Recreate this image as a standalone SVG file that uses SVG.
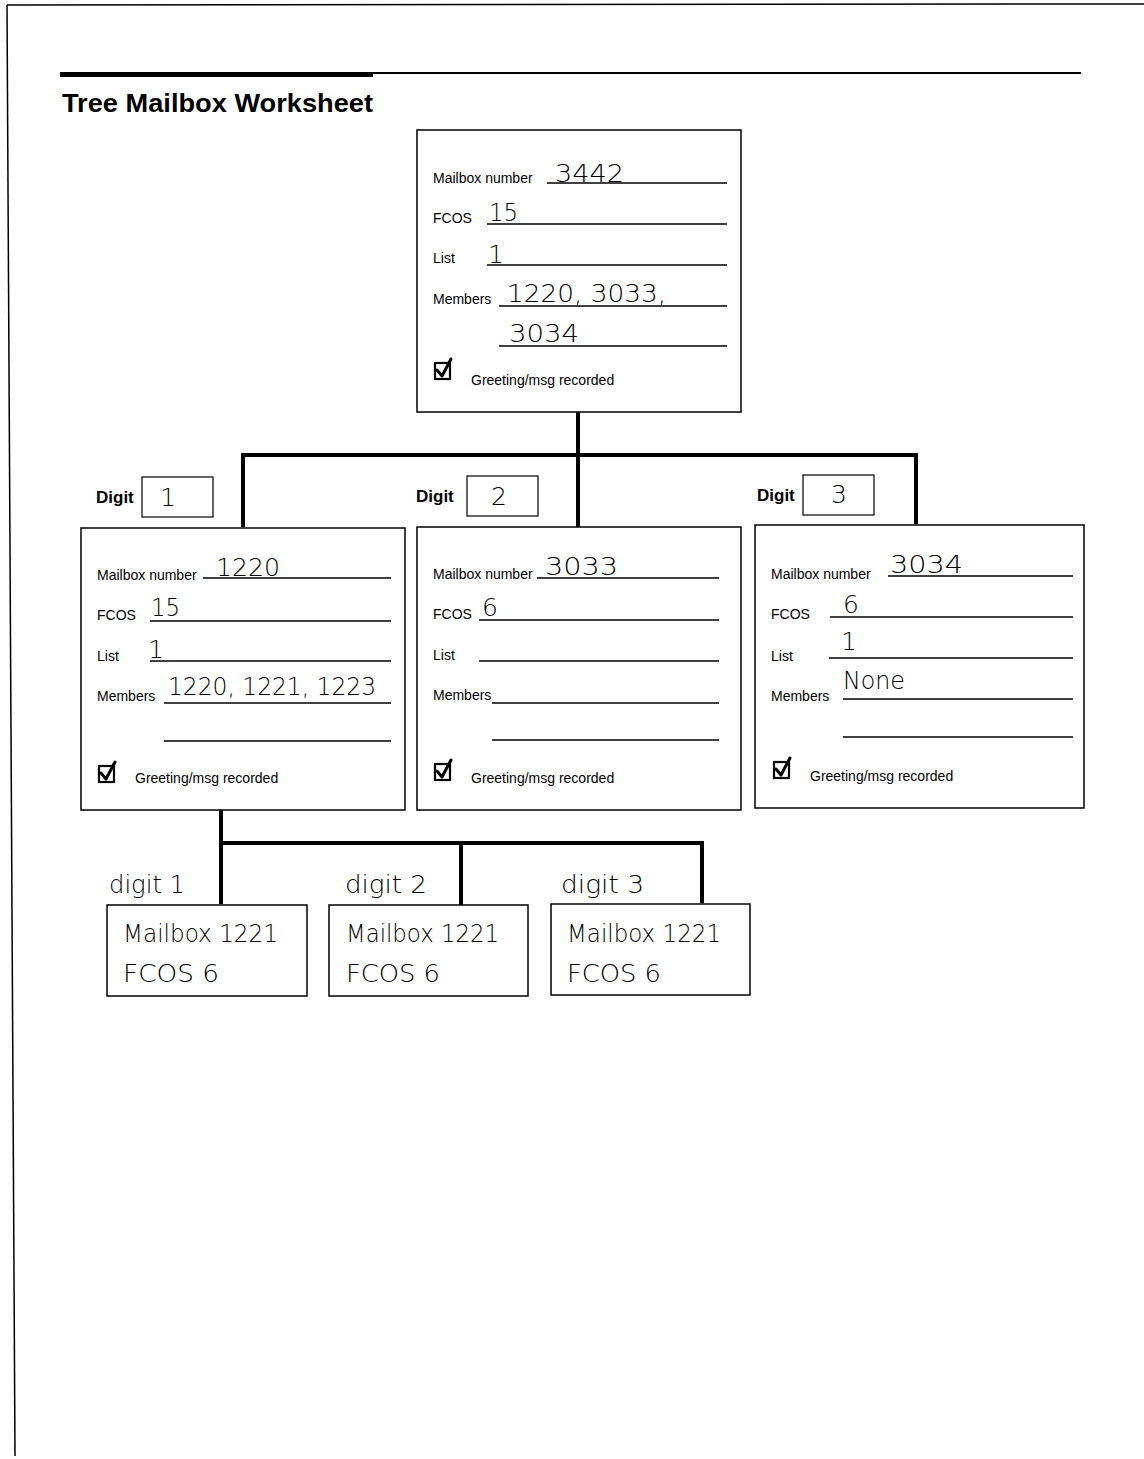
<svg xmlns="http://www.w3.org/2000/svg" width="1144" height="1459" viewBox="0 0 1144 1459">
<style>
.box{fill:#fff;stroke:#000;stroke-width:1.5}
.dbox{fill:#fff;stroke:#000;stroke-width:1.2}
.rule{stroke:#000;stroke-width:1.5}
.conn{stroke:#000;stroke-width:4;fill:none}
.lbl{font-family:"Liberation Sans",Arial,sans-serif;font-size:14px;fill:#000}
.dig{font-family:"Liberation Sans",Arial,sans-serif;font-size:17px;font-weight:bold;fill:#000}
.hw{font-family:"DejaVu Sans",sans-serif;font-weight:200;font-size:25px;fill:#000}
.hwi{font-family:"DejaVu Sans",sans-serif;font-weight:200;font-size:24px;fill:#000}
.cb{fill:none;stroke:#000;stroke-width:2.2}
.ck{fill:none;stroke:#000;stroke-width:3;stroke-linecap:round;stroke-linejoin:round}
</style>
<defs>
<g id="check">
<rect class="cb" x="1" y="4" width="15" height="16"/>
<path class="ck" d="M3 11 L8 17 L17 0"/>
</g>
</defs>
<rect width="1144" height="1459" fill="#fff"/>
<!-- page border -->
<line x1="7" y1="5" x2="1144" y2="4" stroke="#000" stroke-width="1.5"/>
<line x1="7" y1="5" x2="15" y2="1456" stroke="#000" stroke-width="1.5"/>
<!-- header rule -->
<rect x="60" y="72" width="313" height="5" fill="#000"/>
<line x1="373" y1="73" x2="1081" y2="73" stroke="#000" stroke-width="2"/>
<text x="62" y="112" font-family="Liberation Sans,Arial,sans-serif" font-size="25" font-weight="bold" textLength="311" lengthAdjust="spacingAndGlyphs">Tree Mailbox Worksheet</text>

<g id="connectors">
<path class="conn" d="M578 412 V527"/>
<path class="conn" d="M243 527 V455 H916 V524"/>
<path class="conn" d="M221 810 V904"/>
<path class="conn" d="M221 843 H702 V903"/>
<path class="conn" d="M461 843 V905"/>
</g>

<g id="root">
<rect class="box" x="417" y="130" width="324" height="282"/>
<text class="lbl" x="433" y="183">Mailbox number</text>
<line class="rule" x1="547" y1="183" x2="727" y2="183"/>
<text class="hw" x="555" y="182" textLength="69" lengthAdjust="spacingAndGlyphs">3442</text>
<text class="lbl" x="433" y="223">FCOS</text>
<line class="rule" x1="487" y1="224" x2="727" y2="224"/>
<text class="hw" x="489" y="221" textLength="29" lengthAdjust="spacingAndGlyphs">15</text>
<text class="lbl" x="433" y="263">List</text>
<line class="rule" x1="487" y1="265" x2="727" y2="265"/>
<text class="hw" x="488" y="263">1</text>
<text class="lbl" x="433" y="304">Members</text>
<line class="rule" x1="499" y1="306" x2="727" y2="306"/>
<text class="hw" x="507" y="302" textLength="159" lengthAdjust="spacingAndGlyphs">1220, 3033,</text>
<line class="rule" x1="499" y1="346" x2="727" y2="346"/>
<text class="hw" x="509" y="342" textLength="70" lengthAdjust="spacingAndGlyphs">3034</text>
<use href="#check" x="434" y="359"/>
<text class="lbl" x="471" y="385">Greeting/msg recorded</text>
</g>

<g id="mailbox-1220">
<text class="dig" x="96" y="503">Digit</text>
<rect class="dbox" x="142" y="477" width="71" height="40"/>
<text class="hw" x="160" y="506" font-size="24">1</text>
<rect class="box" x="81" y="528" width="324" height="282"/>
<text class="lbl" x="97" y="580">Mailbox number</text>
<line class="rule" x1="203" y1="578" x2="391" y2="578"/>
<text class="hw" x="216" y="576" textLength="64" lengthAdjust="spacingAndGlyphs">1220</text>
<text class="lbl" x="97" y="620">FCOS</text>
<line class="rule" x1="150" y1="621" x2="391" y2="621"/>
<text class="hw" x="151" y="616" textLength="29" lengthAdjust="spacingAndGlyphs">15</text>
<text class="lbl" x="97" y="661">List</text>
<line class="rule" x1="150" y1="661" x2="391" y2="661"/>
<text class="hw" x="148" y="658">1</text>
<text class="lbl" x="97" y="701">Members</text>
<line class="rule" x1="164" y1="703" x2="391" y2="703"/>
<text class="hw" x="168" y="695" textLength="208" lengthAdjust="spacingAndGlyphs">1220, 1221, 1223</text>
<line class="rule" x1="164" y1="741" x2="391" y2="741"/>
<use href="#check" x="98" y="762"/>
<text class="lbl" x="135" y="783">Greeting/msg recorded</text>
</g>

<g id="mailbox-3033">
<text class="dig" x="416" y="502">Digit</text>
<rect class="dbox" x="467" y="476" width="71" height="40"/>
<text class="hw" x="491" y="505" font-size="24">2</text>
<rect class="box" x="417" y="527" width="324" height="283"/>
<text class="lbl" x="433" y="579">Mailbox number</text>
<line class="rule" x1="537" y1="578" x2="719" y2="578"/>
<text class="hw" x="545" y="575" textLength="73" lengthAdjust="spacingAndGlyphs">3033</text>
<text class="lbl" x="433" y="619">FCOS</text>
<line class="rule" x1="479" y1="620" x2="719" y2="620"/>
<text class="hw" x="482" y="616">6</text>
<text class="lbl" x="433" y="660">List</text>
<line class="rule" x1="479" y1="661" x2="719" y2="661"/>
<text class="lbl" x="433" y="700">Members</text>
<line class="rule" x1="492" y1="703" x2="719" y2="703"/>
<line class="rule" x1="492" y1="740" x2="719" y2="740"/>
<use href="#check" x="434" y="760"/>
<text class="lbl" x="471" y="783">Greeting/msg recorded</text>
</g>

<g id="mailbox-3034">
<text class="dig" x="757" y="501">Digit</text>
<rect class="dbox" x="803" y="475" width="71" height="40"/>
<text class="hw" x="831" y="503" font-size="24">3</text>
<rect class="box" x="755" y="525" width="329" height="283"/>
<text class="lbl" x="771" y="579">Mailbox number</text>
<line class="rule" x1="888" y1="576" x2="1073" y2="576"/>
<text class="hw" x="890" y="573" textLength="73" lengthAdjust="spacingAndGlyphs">3034</text>
<text class="lbl" x="771" y="619">FCOS</text>
<line class="rule" x1="830" y1="617" x2="1073" y2="617"/>
<text class="hw" x="843" y="613">6</text>
<text class="lbl" x="771" y="661">List</text>
<line class="rule" x1="829" y1="658" x2="1073" y2="658"/>
<text class="hw" x="841" y="650">1</text>
<text class="lbl" x="771" y="701">Members</text>
<line class="rule" x1="843" y1="699" x2="1073" y2="699"/>
<text class="hw" x="843" y="689" textLength="62" lengthAdjust="spacingAndGlyphs">None</text>
<line class="rule" x1="843" y1="737" x2="1073" y2="737"/>
<use href="#check" x="773" y="758"/>
<text class="lbl" x="810" y="781">Greeting/msg recorded</text>
</g>

<g id="sub-digit-1">
<text class="hwi" x="109" y="893" textLength="76" lengthAdjust="spacingAndGlyphs">digit 1</text>
<rect class="box" x="107" y="905" width="200" height="91"/>
<text class="hw" x="123" y="942" font-size="23" textLength="155" lengthAdjust="spacingAndGlyphs">Mailbox 1221</text>
<text class="hw" x="123" y="982" font-size="23" textLength="96" lengthAdjust="spacingAndGlyphs">FCOS 6</text>
</g>
<g id="sub-digit-2">
<text class="hwi" x="345" y="893" textLength="82" lengthAdjust="spacingAndGlyphs">digit 2</text>
<rect class="box" x="329" y="905" width="199" height="91"/>
<text class="hw" x="346" y="942" font-size="23" textLength="153" lengthAdjust="spacingAndGlyphs">Mailbox 1221</text>
<text class="hw" x="346" y="982" font-size="23" textLength="94" lengthAdjust="spacingAndGlyphs">FCOS 6</text>
</g>
<g id="sub-digit-3">
<text class="hwi" x="561" y="893" textLength="83" lengthAdjust="spacingAndGlyphs">digit 3</text>
<rect class="box" x="551" y="904" width="199" height="91"/>
<text class="hw" x="567" y="942" font-size="23" textLength="154" lengthAdjust="spacingAndGlyphs">Mailbox 1221</text>
<text class="hw" x="567" y="982" font-size="23" textLength="94" lengthAdjust="spacingAndGlyphs">FCOS 6</text>
</g>
</svg>
